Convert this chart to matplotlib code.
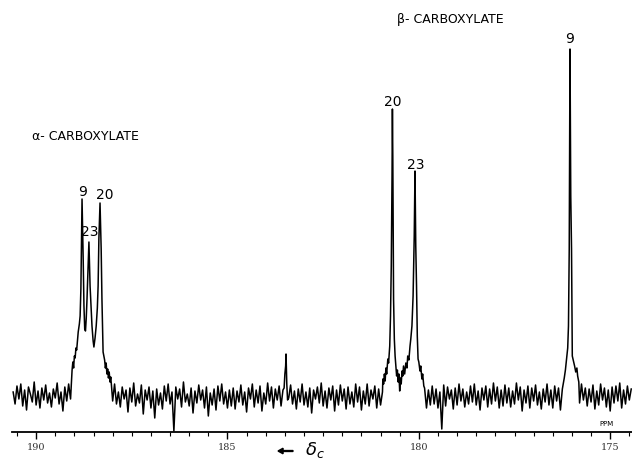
import numpy as np
import matplotlib.pyplot as plt

# baseline noise (px above baseline), one value every 0.05 ppm from 190.60 to 174.45
noise = [
    4, -8, 10, -3, 12, -10, 6, -14, 9, 2, -6, 14, -9, 5, -12, 8, -4, 11, -7, 3,
    -11, 7, -2, 13, -8, 4, -15, 9, -5, 12, -3, 8, -12, 6, -9, 15, -6, 2, -10, 9,
    -4, 11, -13, 5, -7, 10, -2, 16, -9, 3, -14, 7, -5, 12, -8, 4, -11, 9, -3, 6,
    -16, 8, -6, 13, -10, 2, -7, 11, -18, 6, -4, 9, -12, 5, -22, 7, -9, 3, -13, 10,
    -5, 12, -8, 4, -35, 9, -3, 7, -11, 14, -6, 2, -10, 8, -17, 5, -7, 11, -4, 6,
    -12, 9, -20, 3, -9, 7, -14, 10, -5, 12, -8, 4, -12, 6, -10, 8, -13, 5, -6, 11,
    -9, 4, -16, 8, -3, 12, -11, 6, -7, 10, -15, 3, -8, 13, -5, 9, -12, 7, -4, 10,
    -10, 6, -14, 9, -2, 11, -8, 5, -13, 7, -6, 12, -9, 4, -11, 8, -17, 6, -3, 9,
    -7, 13, -10, 5, -12, 8, -4, 10, -15, 6, -9, 11, -5, 7, -13, 9, -8, 4, -11, 12,
    -6, 9, -14, 5, -8, 12, -10, 6, -3, 10, -12, 7, -9, 4, -16, 8, -5, 11, -7, 6,
    -13, 8, -4, 10, -9, 5, -11, 12, -6, 3, -14, 9, -7, 11, -5, 8, -12, 6, -9, 10,
    -8, 7, -12, 4, -33, 11, -10, 9, -3, 6, -13, 8, -9, 12, -5, 7, -11, 4, -8, 10,
    -6, 12, -9, 5, -14, 8, -4, 10, -11, 7, -8, 13, -5, 9, -12, 6, -10, 11, -7, 8,
    -11, 5, -8, 13, -4, 9, -15, 6, -7, 10, -12, 8, -5, 11, -9, 4, -13, 7, -6, 12,
    -9, 6, -12, 10, -5, 8, -14, 7, -3, 11, -10, 5, -8, 9, -13, 6, -7, 12, -4, 8,
    -10, 7, -6, 11, -13, 5, -9, 12, -4, 8, -11, 6, -15, 9, -7, 10, -5, 13, -12, 6,
    -8, 10, -4, 7,
]
ppm_start, ppm_end = 190.60, 174.45

# alpha-carboxylate group (9, 23, 20)
alpha_ppm = [189.06, 189.04, 189.02, 189.00, 188.98, 188.96, 188.94, 188.92, 188.90, 188.87,
             188.85, 188.83, 188.80, 188.77, 188.75, 188.73, 188.71, 188.69, 188.67, 188.64,
             188.62, 188.59, 188.56, 188.54, 188.51, 188.49, 188.46, 188.43, 188.40, 188.38,
             188.36, 188.33, 188.30, 188.28, 188.25, 188.23, 188.21, 188.19, 188.17, 188.15,
             188.13, 188.11, 188.09, 188.07, 188.05, 188.03]
alpha_h = [26, 34, 28, 40, 38, 48, 46, 55, 64, 72,
           80, 107, 197, 137, 90, 67, 65, 78, 97, 130,
           154, 110, 85, 70, 55, 49, 58, 70, 88, 110,
           157, 193, 147, 97, 44, 40, 36, 28, 33, 22,
           27, 18, 24, 14, 19, 10]

# beta-carboxylate 20 and 23
beta_ppm = [180.94, 180.92, 180.90, 180.88, 180.86, 180.84, 180.81, 180.79, 180.76, 180.74,
            180.72, 180.70, 180.69, 180.68, 180.66, 180.64, 180.62, 180.60, 180.58, 180.56,
            180.54, 180.52, 180.50, 180.48, 180.46, 180.44, 180.42, 180.40, 180.37, 180.34,
            180.31, 180.29, 180.26, 180.23, 180.21, 180.18, 180.15, 180.12, 180.10, 180.08,
            180.06, 180.04, 180.02, 180.00, 179.97, 179.95, 179.92, 179.90, 179.87]
beta_h = [17, 12, 22, 15, 28, 22, 37, 33, 50, 80,
          130, 220, 287, 240, 97, 57, 40, 30, 20, 26,
          14, 22, 5, 18, 12, 25, 20, 30, 22, 33,
          28, 40, 36, 50, 57, 70, 100, 160, 225, 150,
          110, 60, 37, 34, 25, 30, 17, 22, 10]

# beta-carboxylate 9
beta9_ppm = [176.20, 176.17, 176.14, 176.11, 176.09, 176.07, 176.05, 176.03, 176.01, 175.99,
             175.96, 175.93, 175.90, 175.87, 175.85, 175.82]
beta9_h = [18, 26, 37, 48, 70, 147, 347, 200, 147, 40,
           35, 30, 24, 28, 20, 14]

# small spike near 183.5
spike_ppm = [183.52, 183.50, 183.48, 183.47, 183.45, 183.43]
spike_h = [8, 22, 30, 42, 12, -4]

peaks = [(alpha_ppm, alpha_h), (beta_ppm, beta_h), (beta9_ppm, beta9_h), (spike_ppm, spike_h)]

# peak labels
label_text = ['9', '23', '20', '20', '23', '9']
label_ppm = [188.79, 188.59, 188.20, 180.69, 180.09, 176.06]
label_h = [205, 165, 202, 295, 232, 358]

# build the trace: noise outside peak windows, peak outlines inside
grid = np.linspace(ppm_start, ppm_end, len(noise))
keep = np.ones(len(grid), dtype=bool)
for px, ph in peaks:
    keep &= ~((grid <= max(px)) & (grid >= min(px)))
x = np.concatenate([grid[keep]] + [np.array(p[0]) for p in peaks])
y = np.concatenate([np.array(noise)[keep]] + [np.array(p[1]) for p in peaks])
order = np.argsort(-x)
x, y = x[order], y[order]

fig = plt.figure(figsize=(6.32, 4.64), dpi=100)
ax = fig.add_axes([12 / 632, 31 / 464, 620 / 632, 433 / 464])
ax.plot(x, y, color='black', lw=1.1)

ax.set_xlim(190.63, 174.43)
ax.set_ylim(-36, 397)
for s in ['top', 'right', 'left']:
    ax.spines[s].set_visible(False)
ax.spines['bottom'].set_linewidth(1.3)
ax.set_yticks([])
ax.set_xticks([190, 185, 180, 175])
ax.set_xticks(np.arange(190.5, 174.4, -0.5), minor=True)
ax.tick_params(axis='x', which='major', length=5, width=1.0, pad=2, labelsize=7, labelcolor='#333333')
ax.tick_params(axis='x', which='minor', length=3, width=0.8)
for lab in ax.get_xticklabels():
    lab.set_family('DejaVu Serif')

for t, px, ph in zip(label_text, label_ppm, label_h):
    ax.text(px, ph, t, ha='center', va='center', fontsize=10)

ax.text(190.10, 260, 'α- CARBOXYLATE', ha='left', va='center', fontsize=9)
ax.text(180.57, 377, 'β- CARBOXYLATE', ha='left', va='center', fontsize=9)
ax.text(175.10, -27, 'PPM', ha='center', va='center', fontsize=5)

fig.patches.append(plt.matplotlib.patches.FancyArrow(
    293 / 632, 1 - 452 / 464, -15 / 632, 0, width=0.002, head_width=0.012,
    head_length=0.008, color='black', transform=fig.transFigure, length_includes_head=True))
fig.text(305 / 632, 1 - 450 / 464, r'$\delta_c$', fontsize=13, ha='left', va='center')

fig.savefig('out.png', dpi=100)
